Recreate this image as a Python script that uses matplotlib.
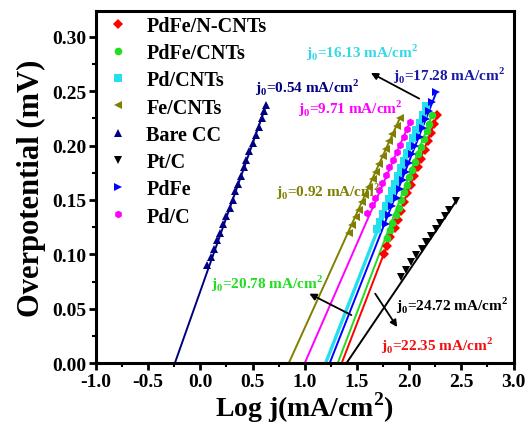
import matplotlib
matplotlib.use("Agg")
import matplotlib.pyplot as plt
from matplotlib.ticker import MultipleLocator

plt.rcParams['font.family'] = ['Liberation Serif', 'DejaVu Serif']
plt.rcParams['font.weight'] = 'bold'
plt.rcParams['mathtext.fontset'] = 'custom'
plt.rcParams['mathtext.rm'] = 'Liberation Serif:bold'
plt.rcParams['mathtext.bf'] = 'Liberation Serif:bold'

# Tafel data: log j (mA/cm^2) vs overpotential
labels = ['PdFe/N-CNTs', 'PdFe/CNTs', 'Pd/CNTs', 'Fe/CNTs', 'Bare CC', 'Pt/C', 'PdFe', 'Pd/C']
colors = ['#ff0000', '#22dd22', '#22e0f0', '#808000', '#000080', '#000000', '#0000ff', '#ff00ff']
markers = ['D', 'o', 's', '<', '^', 'v', '>', 'h']

x_pdfe_ncnt = [1.76, 1.79, 1.82, 1.86, 1.89, 1.92, 1.95, 1.98, 2.02, 2.05, 2.08, 2.11, 2.15, 2.18, 2.21, 2.24, 2.27]
y_pdfe_ncnt = [0.100, 0.108, 0.116, 0.124, 0.132, 0.140, 0.148, 0.156, 0.164, 0.172, 0.180, 0.188, 0.196, 0.204, 0.212, 0.220, 0.228]

x_pdfe_cnt = [1.79, 1.82, 1.84, 1.87, 1.90, 1.92, 1.95, 1.98, 2.00, 2.03, 2.06, 2.08, 2.11, 2.14, 2.17, 2.19, 2.22]
y_pdfe_cnt = [0.115, 0.122, 0.129, 0.136, 0.143, 0.150, 0.157, 0.164, 0.171, 0.178, 0.185, 0.192, 0.199, 0.206, 0.213, 0.220, 0.228]

x_pd_cnt = [1.69, 1.72, 1.75, 1.78, 1.81, 1.84, 1.86, 1.89, 1.92, 1.95, 1.98, 2.01, 2.04, 2.07, 2.10, 2.13, 2.16]
y_pd_cnt = [0.123, 0.130, 0.137, 0.144, 0.151, 0.158, 0.165, 0.172, 0.179, 0.186, 0.193, 0.200, 0.207, 0.214, 0.221, 0.228, 0.236]

x_fe_cnt = [1.42, 1.45, 1.49, 1.52, 1.55, 1.58, 1.62, 1.65, 1.68, 1.71, 1.75, 1.78, 1.81, 1.84, 1.88, 1.91]
y_fe_cnt = [0.120, 0.127, 0.134, 0.141, 0.148, 0.155, 0.162, 0.169, 0.176, 0.183, 0.190, 0.197, 0.204, 0.211, 0.218, 0.225]

x_bare = [0.06, 0.10, 0.13, 0.16, 0.19, 0.22, 0.25, 0.28, 0.31, 0.33, 0.36, 0.39, 0.42, 0.44, 0.47, 0.50, 0.53, 0.56, 0.59, 0.61, 0.63]
y_bare = [0.090, 0.098, 0.105, 0.113, 0.120, 0.128, 0.135, 0.143, 0.150, 0.158, 0.165, 0.172, 0.180, 0.187, 0.195, 0.202, 0.210, 0.217, 0.225, 0.232, 0.237]

x_ptc = [1.92, 1.97, 2.02, 2.07, 2.12, 2.16, 2.21, 2.26, 2.30, 2.34, 2.38, 2.45]
y_ptc = [0.079, 0.086, 0.093, 0.099, 0.105, 0.111, 0.117, 0.123, 0.129, 0.135, 0.141, 0.149]

x_pdfe = [1.78, 1.81, 1.84, 1.88, 1.91, 1.94, 1.97, 2.00, 2.03, 2.06, 2.10, 2.13, 2.16, 2.19, 2.22, 2.26]
y_pdfe = [0.128, 0.136, 0.144, 0.152, 0.160, 0.168, 0.176, 0.184, 0.192, 0.200, 0.208, 0.216, 0.224, 0.232, 0.240, 0.249]

x_pdc = [1.60, 1.64, 1.67, 1.71, 1.74, 1.78, 1.81, 1.85, 1.88, 1.91, 1.95, 1.98, 2.01]
y_pdc = [0.138, 0.145, 0.152, 0.159, 0.166, 0.173, 0.180, 0.187, 0.194, 0.201, 0.208, 0.215, 0.222]

xs = [x_pdfe_ncnt, x_pdfe_cnt, x_pd_cnt, x_fe_cnt, x_bare, x_ptc, x_pdfe, x_pdc]
ys = [y_pdfe_ncnt, y_pdfe_cnt, y_pd_cnt, y_fe_cnt, y_bare, y_ptc, y_pdfe, y_pdc]

# x-intercepts (log j0) of the linear fits
fit_intercepts = [1.354, 1.316, 1.200, 0.847, -0.244, 1.400, 1.239, 1.000]

# j0 annotations: text, colour, position
ann_texts = ['16.13', '17.28', '0.54', '9.71', '0.92', '20.78', '24.72', '22.35']
ann_colors = ['#33d8e8', '#1a1aa8', '#000080', '#ff00ff', '#808000', '#22dd22', '#000000', '#ee1111']
ann_x = [1.01, 1.85, 0.52, 0.94, 0.72, 0.10, 1.87, 1.73]
ann_y = [0.286, 0.265, 0.254, 0.235, 0.158, 0.074, 0.054, 0.017]

fig = plt.figure(figsize=(5.30, 4.35), dpi=100)
ax = fig.add_axes([0.181, 0.163, 0.788, 0.810])

for xv, yv, x0, c, m, lab in zip(xs, ys, fit_intercepts, colors, markers, labels):
    lw = 2.4 if lab == 'Pd/CNTs' else 1.4
    ax.plot([x0, xv[-1]], [0.0, yv[-1]], color=c, lw=lw, zorder=2)
    ax.plot(xv, yv, linestyle='none', marker=m, color=c, ms=5.5,
            markeredgewidth=0, label=lab, zorder=3)

for t, c, x, y in zip(ann_texts, ann_colors, ann_x, ann_y):
    ax.text(x, y, r'j$_0$=' + t + r' mA/cm$^2$', color=c, fontsize=11,
            fontweight='bold', va='center', ha='left', zorder=4)

arrow = dict(arrowstyle='-|>', color='black', lw=1.3, mutation_scale=10)
ax.annotate('', xy=(1.61, 0.268), xytext=(2.12, 0.242), arrowprops=arrow)
ax.annotate('', xy=(1.02, 0.065), xytext=(1.47, 0.043), arrowprops=arrow)
ax.annotate('', xy=(1.90, 0.031), xytext=(1.66, 0.066), arrowprops=arrow)

ax.set_xlim(-1.0, 3.0)
ax.set_ylim(0.0, 0.324)
ax.xaxis.set_major_locator(MultipleLocator(0.5))
ax.xaxis.set_minor_locator(MultipleLocator(0.25))
ax.yaxis.set_major_locator(MultipleLocator(0.05))
ax.yaxis.set_minor_locator(MultipleLocator(0.025))
ax.xaxis.set_major_formatter(plt.FuncFormatter(lambda v, p: f'{v:.1f}'))
ax.yaxis.set_major_formatter(plt.FuncFormatter(lambda v, p: f'{v:.2f}'))

for s in ax.spines.values():
    s.set_linewidth(2.2)
ax.tick_params(which='major', direction='out', length=5, width=2.0, labelsize=14,
               top=False, right=False, pad=2)
ax.tick_params(which='minor', direction='out', length=3, width=1.5,
               top=False, right=False)
for lbl in ax.get_xticklabels() + ax.get_yticklabels():
    lbl.set_fontweight('bold')

ax.set_xlabel(r'Log j(mA/cm$^2$)', fontsize=20, fontweight='bold', labelpad=0)
ax.set_ylabel('Overpotential (mV)', fontsize=22, fontweight='bold', labelpad=4)

leg = ax.legend(loc='upper left', bbox_to_anchor=(-0.005, 1.02), frameon=False,
                fontsize=14.5, handlelength=1.2, handletextpad=0.8,
                labelspacing=0.36, borderaxespad=0.2, markerscale=1.0)
for txt in leg.get_texts():
    txt.set_fontweight('bold')

fig.savefig('out.png', dpi=100)
